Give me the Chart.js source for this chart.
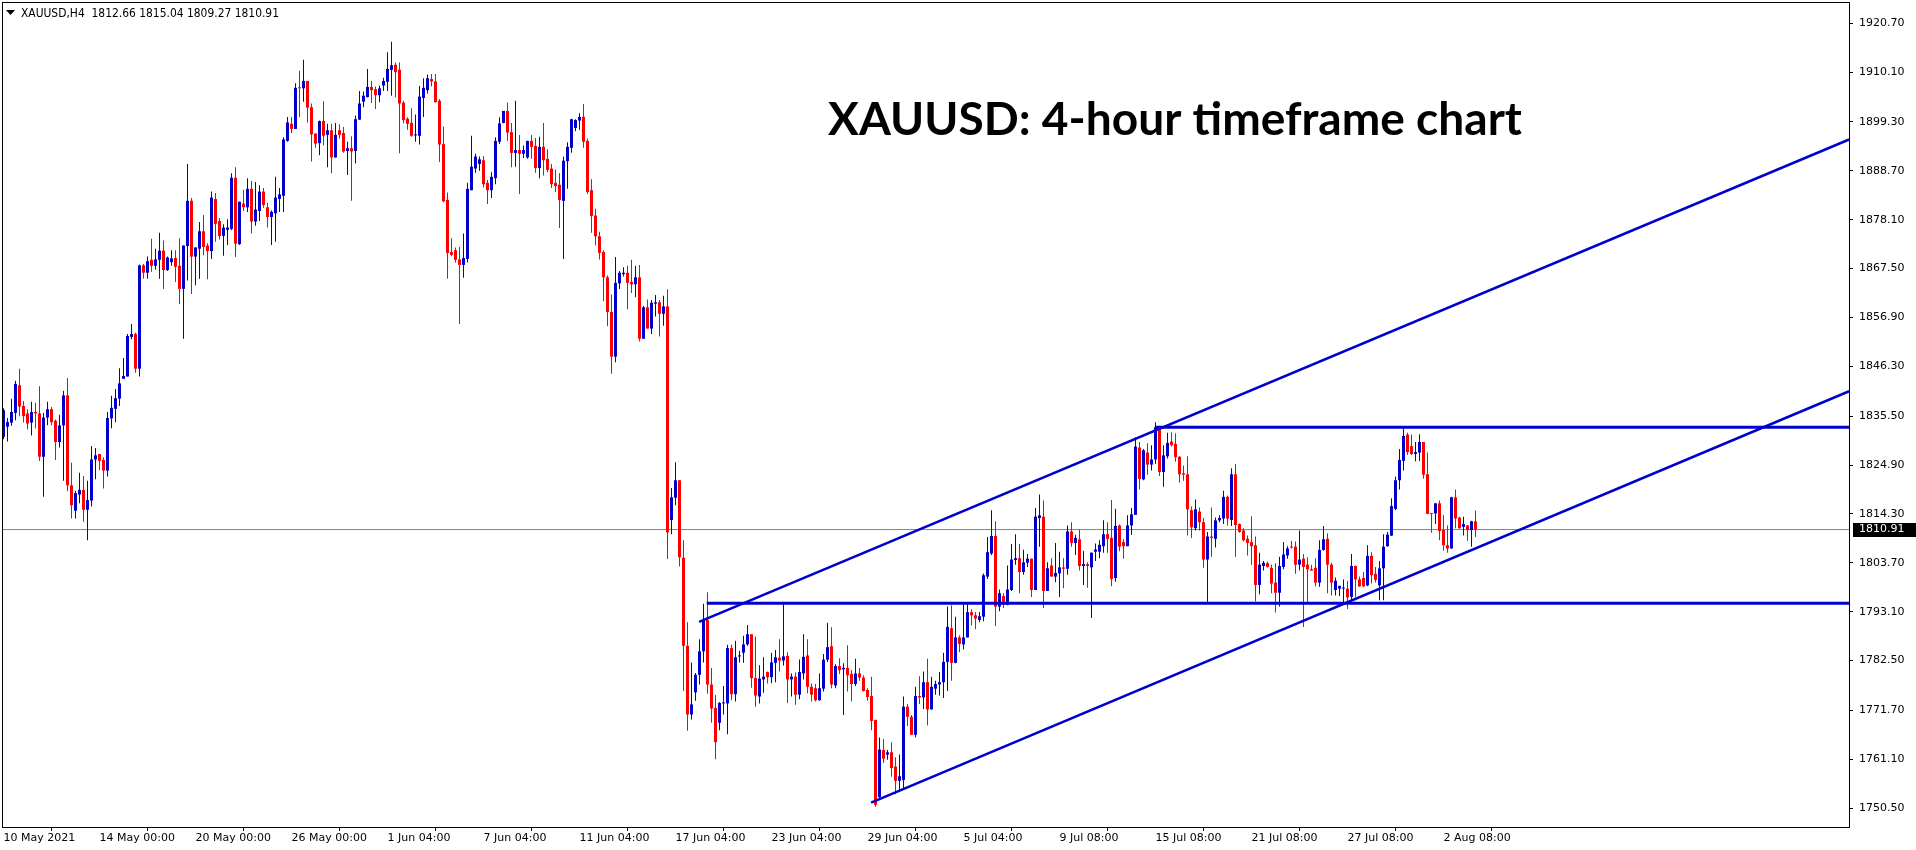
<!DOCTYPE html>
<html>
<head>
<meta charset="utf-8">
<title>XAUUSD H4</title>
<script src="https://cdn.jsdelivr.net/npm/chart.js@4.4.1/dist/chart.umd.min.js"></script>
<style>
  html, body { margin: 0; padding: 0; background: #fff; }
  canvas { display: block; }
</style>
</head>
<body>
<canvas id="chart" width="1916" height="850" style="width:1916px;height:850px"></canvas>
<script>
const symbol = 'XAUUSD,H4';
const title = 'XAUUSD: 4-hour timeframe chart';

// one label every 24 bars (4 trading days of H4)
const dateLabels = ['10 May 2021', '14 May 00:00', '20 May 00:00', '26 May 00:00', '1 Jun 04:00',
    '7 Jun 04:00', '11 Jun 04:00', '17 Jun 04:00', '23 Jun 04:00', '29 Jun 04:00', '5 Jul 04:00',
    '9 Jul 08:00', '15 Jul 08:00', '21 Jul 08:00', '27 Jul 08:00', '2 Aug 08:00'];

const priceTicks = [1920.70, 1910.10, 1899.30, 1888.70, 1878.10, 1867.50, 1856.90, 1846.30, 1835.50,
    1824.90, 1814.30, 1803.70, 1793.10, 1782.50, 1771.70, 1761.10, 1750.50];

const opens = [
    1831.0, 1833.2, 1834.1, 1836.2, 1842.2, 1837.7, 1836.1, 1834.1, 1836.4, 1836.1,
    1826.7, 1835.2, 1837.0, 1834.5, 1829.9, 1833.5, 1840.0, 1820.5, 1815.0, 1818.5,
    1819.5, 1815.2, 1817.2, 1826.1, 1827.3, 1826.0, 1823.7, 1835.0, 1837.1, 1839.3,
    1843.6, 1844.1, 1852.7, 1853.3, 1845.8, 1868.2, 1866.6, 1869.4, 1868.1, 1869.4,
    1871.4, 1867.2, 1868.9, 1869.8, 1868.1, 1863.1, 1872.4, 1882.2, 1870.1, 1871.8,
    1875.6, 1872.5, 1871.3, 1882.6, 1877.8, 1874.6, 1875.9, 1876.1, 1887.2, 1872.8,
    1881.6, 1880.8, 1884.8, 1877.7, 1880.0, 1884.2, 1880.8, 1878.7, 1879.5, 1882.6,
    1883.3, 1895.2, 1898.9, 1897.8, 1906.7, 1906.6, 1908.2, 1902.5, 1896.8, 1894.7,
    1899.5, 1896.5, 1897.5, 1891.6, 1897.5, 1896.9, 1893.0, 1893.6, 1893.0, 1899.8,
    1903.7, 1904.7, 1906.9, 1906.4, 1905.1, 1907.2, 1908.0, 1910.6, 1911.7, 1910.6,
    1903.5, 1900.0, 1899.1, 1896.4, 1896.3, 1904.5, 1906.2, 1908.6, 1908.1, 1903.9,
    1894.5, 1882.4, 1871.1, 1871.5, 1869.5, 1868.3, 1869.6, 1884.5, 1889.2, 1890.2,
    1891.0, 1886.1, 1884.5, 1887.1, 1895.0, 1899.1, 1901.7, 1897.1, 1892.6, 1893.2,
    1892.4, 1891.6, 1895.2, 1894.1, 1889.3, 1893.9, 1891.3, 1889.2, 1886.1, 1885.7,
    1882.2, 1890.8, 1893.7, 1898.0, 1899.6, 1900.4, 1895.2, 1884.5, 1879.0, 1874.5,
    1871.1, 1865.6, 1858.1, 1848.4, 1864.3, 1866.3, 1866.6, 1864.6, 1864.1, 1865.6,
    1852.3, 1859.1, 1854.5, 1859.9, 1860.2, 1857.7, 1859.3, 1813.0, 1817.8, 1821.6,
    1804.8, 1785.7, 1770.8, 1775.6, 1779.4, 1784.5, 1791.3, 1777.3, 1772.2, 1769.0,
    1773.2, 1773.2, 1785.2, 1775.2, 1783.4, 1784.2, 1786.0, 1788.2, 1778.7, 1774.7,
    1778.4, 1780.0, 1778.9, 1782.0, 1783.1, 1782.5, 1783.5, 1778.4, 1779.0, 1775.1,
    1779.7, 1783.6, 1776.8, 1776.5, 1773.9, 1776.4, 1782.7, 1785.6, 1777.1, 1781.3,
    1780.6, 1780.9, 1779.6, 1777.4, 1779.7, 1778.8, 1776.1, 1774.8, 1769.6, 1752.9,
    1763.1, 1762.1, 1762.6, 1759.5, 1756.4, 1756.6, 1772.5, 1770.3, 1766.4, 1774.8,
    1774.5, 1777.8, 1771.9, 1776.4, 1777.3, 1777.8, 1782.2, 1789.5, 1782.0, 1787.5,
    1786.0, 1787.5, 1793.0, 1792.3, 1791.3, 1792.0, 1800.7, 1805.7, 1809.5, 1794.2,
    1796.5, 1794.6, 1797.8, 1804.3, 1804.7, 1801.7, 1803.7, 1804.6, 1797.8, 1813.4,
    1813.7, 1797.6, 1803.1, 1800.7, 1801.4, 1802.7, 1802.4, 1810.5, 1808.0, 1808.8,
    1803.0, 1803.4, 1802.7, 1806.1, 1806.1, 1807.3, 1809.9, 1809.1, 1800.4, 1811.8,
    1808.2, 1807.3, 1811.8, 1814.1, 1828.7, 1821.8, 1827.6, 1825.0, 1826.1, 1833.1,
    1823.4, 1826.8, 1830.0, 1829.5, 1826.7, 1823.1, 1822.9, 1815.1, 1811.2, 1814.8,
    1812.5, 1804.4, 1809.4, 1808.9, 1812.9, 1813.3, 1818.0, 1813.0, 1822.9, 1812.1,
    1810.7, 1808.9, 1808.2, 1807.5, 1798.9, 1803.0, 1803.6, 1802.6, 1799.4, 1797.2,
    1802.8, 1805.3, 1807.2, 1807.2, 1803.3, 1804.6, 1803.3, 1802.3, 1802.6, 1799.4,
    1806.5, 1808.9, 1803.3, 1797.8, 1798.1, 1798.1, 1798.1, 1796.3, 1803.0, 1800.1,
    1800.4, 1798.8, 1805.2, 1801.3, 1798.8, 1802.5, 1807.3, 1809.6, 1815.4, 1821.6,
    1825.8, 1831.5, 1829.0, 1827.3, 1827.6, 1829.9, 1822.9, 1814.4, 1814.4, 1816.6,
    1810.8, 1807.5, 1806.8, 1817.9, 1813.5, 1811.5, 1811.8, 1810.8, 1812.66
];
const highs = [
    1837.2, 1835.1, 1839.3, 1843.2, 1845.8, 1838.8, 1837.0, 1838.6, 1838.4, 1842.0,
    1836.2, 1838.6, 1837.5, 1834.8, 1835.8, 1841.0, 1843.8, 1825.4, 1819.3, 1823.2,
    1822.5, 1821.5, 1829.0, 1828.6, 1827.3, 1826.6, 1836.4, 1839.9, 1841.4, 1845.9,
    1848.1, 1853.3, 1855.5, 1853.6, 1868.4, 1868.5, 1870.1, 1874.0, 1871.8, 1875.3,
    1873.6, 1870.1, 1871.5, 1871.5, 1874.1, 1872.5, 1890.2, 1882.8, 1872.1, 1877.6,
    1879.1, 1873.0, 1884.2, 1883.9, 1878.5, 1877.1, 1878.2, 1888.2, 1889.5, 1882.0,
    1884.6, 1887.1, 1886.5, 1886.3, 1885.6, 1885.0, 1881.7, 1880.1, 1887.4, 1885.0,
    1896.0, 1900.4, 1900.4, 1907.7, 1910.4, 1912.8, 1908.2, 1903.3, 1896.8, 1899.6,
    1903.8, 1898.9, 1898.9, 1899.1, 1898.8, 1898.2, 1895.0, 1896.2, 1900.7, 1906.0,
    1905.9, 1910.8, 1908.2, 1907.0, 1907.2, 1908.9, 1914.4, 1916.7, 1912.2, 1912.2,
    1903.9, 1900.3, 1902.3, 1900.9, 1907.1, 1908.8, 1909.6, 1909.7, 1909.7, 1904.3,
    1898.3, 1884.0, 1874.1, 1872.1, 1872.2, 1875.1, 1886.1, 1896.3, 1892.4, 1891.8,
    1891.9, 1886.7, 1888.4, 1896.0, 1900.3, 1901.7, 1903.5, 1899.1, 1903.9, 1896.5,
    1894.2, 1895.2, 1896.5, 1895.8, 1896.1, 1899.1, 1893.4, 1890.2, 1889.0, 1888.2,
    1891.8, 1894.9, 1900.0, 1899.9, 1901.2, 1903.2, 1895.7, 1886.9, 1880.5, 1875.5,
    1871.5, 1866.0, 1861.9, 1870.0, 1867.0, 1867.8, 1868.1, 1869.4, 1868.1, 1868.3,
    1859.4, 1860.8, 1860.7, 1861.8, 1860.7, 1861.6, 1863.0, 1819.9, 1825.5, 1821.6,
    1808.6, 1790.8, 1782.1, 1779.8, 1787.1, 1794.8, 1797.3, 1780.9, 1775.0, 1773.5,
    1777.0, 1785.9, 1786.0, 1786.8, 1784.6, 1787.9, 1790.2, 1788.2, 1787.7, 1781.5,
    1783.2, 1780.1, 1784.2, 1784.8, 1787.1, 1794.8, 1784.3, 1779.7, 1779.9, 1782.7,
    1788.2, 1787.1, 1777.5, 1777.4, 1779.7, 1783.9, 1790.7, 1789.7, 1781.7, 1783.0,
    1781.9, 1785.8, 1780.4, 1782.9, 1780.9, 1779.3, 1776.5, 1779.0, 1769.7, 1765.8,
    1765.5, 1763.1, 1764.8, 1761.5, 1762.1, 1774.7, 1773.1, 1770.7, 1776.8, 1779.1,
    1780.1, 1782.9, 1779.0, 1778.1, 1780.0, 1784.2, 1794.2, 1794.5, 1792.0, 1788.0,
    1794.9, 1794.9, 1793.6, 1793.0, 1793.0, 1801.4, 1809.3, 1815.1, 1812.7, 1797.9,
    1797.1, 1803.1, 1807.8, 1809.9, 1807.8, 1806.5, 1805.6, 1804.6, 1815.6, 1818.5,
    1817.2, 1803.8, 1804.7, 1808.0, 1806.1, 1804.7, 1811.8, 1812.5, 1809.8, 1810.9,
    1806.3, 1803.8, 1805.9, 1807.9, 1808.6, 1812.9, 1812.5, 1817.3, 1815.4, 1812.0,
    1808.8, 1814.0, 1815.6, 1830.9, 1829.9, 1828.4, 1829.6, 1829.2, 1834.2, 1833.1,
    1829.2, 1831.9, 1832.0, 1831.8, 1826.8, 1824.8, 1826.8, 1815.9, 1817.4, 1815.7,
    1813.4, 1810.4, 1815.7, 1813.5, 1814.0, 1819.3, 1818.3, 1824.2, 1825.1, 1812.2,
    1811.2, 1809.6, 1813.8, 1809.4, 1805.9, 1804.1, 1804.0, 1803.3, 1803.6, 1805.0,
    1808.2, 1807.3, 1808.5, 1808.3, 1810.7, 1805.6, 1804.9, 1803.3, 1804.7, 1808.6,
    1811.7, 1810.1, 1803.7, 1800.5, 1798.7, 1800.1, 1799.8, 1805.6, 1803.1, 1800.7,
    1801.7, 1807.5, 1806.0, 1802.8, 1804.1, 1809.9, 1810.4, 1817.7, 1822.4, 1828.4,
    1832.9, 1831.9, 1831.5, 1829.9, 1831.6, 1829.9, 1827.6, 1814.4, 1816.6, 1817.2,
    1814.0, 1811.8, 1818.0, 1819.6, 1813.7, 1813.7, 1811.9, 1812.8, 1815.04
];
const lows = [
    1830.5, 1830.0, 1833.4, 1834.6, 1835.5, 1834.1, 1832.6, 1831.3, 1832.8, 1825.8,
    1818.0, 1833.5, 1833.5, 1826.0, 1828.7, 1821.5, 1819.2, 1813.3, 1813.3, 1816.6,
    1812.6, 1808.6, 1815.9, 1821.8, 1823.8, 1819.8, 1822.4, 1832.9, 1834.2, 1837.7,
    1843.6, 1844.1, 1852.2, 1844.9, 1844.1, 1865.3, 1865.3, 1866.8, 1867.3, 1865.3,
    1863.1, 1867.0, 1868.1, 1864.6, 1859.8, 1852.3, 1864.9, 1862.0, 1863.9, 1865.3,
    1870.4, 1865.2, 1869.6, 1873.3, 1873.8, 1870.3, 1872.6, 1875.8, 1870.0, 1872.6,
    1880.0, 1879.8, 1875.1, 1876.8, 1877.8, 1880.7, 1876.4, 1872.6, 1873.3, 1879.8,
    1879.8, 1895.0, 1896.9, 1897.8, 1900.4, 1903.7, 1899.2, 1890.7, 1893.7, 1892.1,
    1894.2, 1889.5, 1888.2, 1891.6, 1895.7, 1892.6, 1887.8, 1882.2, 1890.3, 1899.8,
    1902.5, 1904.6, 1903.4, 1902.1, 1903.6, 1906.0, 1906.0, 1905.0, 1904.6, 1892.5,
    1899.0, 1897.6, 1896.1, 1895.0, 1894.4, 1900.4, 1905.5, 1907.0, 1903.5, 1890.6,
    1881.9, 1865.3, 1870.2, 1868.8, 1855.5, 1865.5, 1868.8, 1884.5, 1888.3, 1888.7,
    1885.1, 1881.5, 1882.8, 1885.8, 1894.5, 1899.0, 1895.2, 1889.5, 1889.6, 1883.7,
    1891.5, 1891.3, 1891.3, 1888.3, 1887.1, 1887.7, 1888.4, 1885.0, 1884.1, 1876.3,
    1869.6, 1884.8, 1892.6, 1897.3, 1897.6, 1893.7, 1883.7, 1875.3, 1872.5, 1869.5,
    1860.4, 1855.0, 1844.7, 1847.2, 1863.1, 1865.8, 1858.7, 1862.2, 1861.3, 1851.7,
    1852.3, 1854.5, 1853.3, 1857.1, 1852.8, 1855.1, 1804.5, 1809.9, 1816.2, 1802.9,
    1775.9, 1767.3, 1769.7, 1773.8, 1777.3, 1782.1, 1775.3, 1769.0, 1761.1, 1767.4,
    1770.8, 1766.5, 1773.9, 1773.6, 1782.1, 1782.0, 1785.7, 1776.6, 1772.5, 1773.2,
    1775.5, 1777.5, 1777.6, 1777.8, 1780.1, 1781.4, 1773.3, 1774.7, 1772.9, 1774.1,
    1778.4, 1775.4, 1773.6, 1773.6, 1773.8, 1775.8, 1782.2, 1776.5, 1776.5, 1779.6,
    1770.7, 1775.8, 1773.6, 1777.0, 1778.1, 1775.8, 1773.8, 1767.4, 1750.8, 1752.7,
    1760.3, 1761.0, 1757.3, 1753.5, 1754.0, 1754.5, 1768.3, 1766.4, 1765.8, 1773.1,
    1772.0, 1768.4, 1771.9, 1775.1, 1774.9, 1774.4, 1775.9, 1778.1, 1781.9, 1784.3,
    1784.9, 1787.5, 1790.1, 1789.3, 1790.8, 1791.0, 1800.2, 1805.4, 1790.0, 1793.2,
    1793.9, 1794.5, 1797.6, 1803.3, 1797.1, 1801.1, 1802.8, 1796.3, 1797.8, 1807.2,
    1793.9, 1797.6, 1800.7, 1799.5, 1796.3, 1798.2, 1801.1, 1807.2, 1805.4, 1802.0,
    1798.9, 1798.3, 1791.7, 1804.1, 1804.7, 1805.9, 1805.9, 1798.6, 1799.6, 1806.2,
    1804.6, 1807.3, 1809.8, 1814.1, 1819.6, 1821.6, 1822.8, 1823.7, 1825.1, 1822.5,
    1820.2, 1826.3, 1828.9, 1825.6, 1821.1, 1821.5, 1809.6, 1809.1, 1810.7, 1810.7,
    1802.6, 1795.2, 1805.0, 1807.0, 1812.5, 1812.1, 1811.8, 1811.7, 1805.0, 1810.2,
    1808.3, 1805.3, 1803.3, 1795.3, 1796.9, 1802.0, 1802.7, 1797.1, 1792.9, 1794.2,
    1802.3, 1804.6, 1806.8, 1801.3, 1802.1, 1789.8, 1795.2, 1802.0, 1798.6, 1798.5,
    1806.3, 1797.1, 1796.6, 1796.6, 1796.5, 1794.9, 1793.7, 1795.2, 1796.3, 1798.5,
    1798.4, 1798.6, 1799.2, 1799.4, 1795.6, 1795.6, 1807.2, 1809.5, 1815.1, 1819.6,
    1823.7, 1827.1, 1827.1, 1825.7, 1825.8, 1821.9, 1814.3, 1810.2, 1812.1, 1808.6,
    1806.3, 1805.9, 1806.8, 1811.2, 1811.1, 1809.6, 1808.5, 1807.2, 1809.27
];
const closes = [
    1836.8, 1834.2, 1836.4, 1842.5, 1837.6, 1835.5, 1833.9, 1836.4, 1836.1, 1826.7,
    1835.2, 1837.0, 1834.2, 1829.9, 1833.5, 1840.0, 1820.5, 1816.2, 1818.8, 1819.5,
    1815.2, 1817.3, 1826.1, 1827.0, 1825.8, 1823.7, 1835.1, 1837.3, 1839.4, 1842.6,
    1844.2, 1852.9, 1853.3, 1845.8, 1868.2, 1866.6, 1869.1, 1868.1, 1869.5, 1871.4,
    1867.2, 1869.9, 1869.7, 1867.9, 1863.1, 1872.5, 1882.2, 1870.1, 1872.1, 1875.6,
    1872.2, 1871.3, 1882.9, 1877.2, 1874.6, 1876.4, 1876.4, 1887.2, 1872.9, 1882.0,
    1880.8, 1884.8, 1877.7, 1880.3, 1884.2, 1881.3, 1878.7, 1879.8, 1882.9, 1883.6,
    1895.5, 1899.2, 1897.8, 1906.7, 1906.6, 1908.2, 1902.4, 1896.6, 1894.6, 1899.5,
    1896.3, 1897.5, 1891.6, 1896.5, 1896.5, 1892.9, 1893.6, 1892.9, 1899.9, 1903.3,
    1905.0, 1906.9, 1906.2, 1905.1, 1906.6, 1908.2, 1910.8, 1911.6, 1910.1, 1903.3,
    1899.7, 1898.9, 1896.3, 1896.5, 1904.8, 1906.7, 1908.8, 1908.1, 1903.6, 1894.4,
    1882.1, 1870.9, 1870.5, 1869.4, 1868.3, 1869.8, 1884.8, 1889.6, 1891.8, 1891.2,
    1885.8, 1884.5, 1887.4, 1895.2, 1899.0, 1901.7, 1897.0, 1892.6, 1893.2, 1892.4,
    1893.2, 1895.2, 1893.9, 1889.3, 1893.9, 1891.0, 1888.9, 1885.8, 1885.4, 1882.4,
    1890.9, 1893.9, 1899.9, 1899.7, 1900.4, 1895.0, 1884.1, 1878.9, 1874.5, 1870.9,
    1865.6, 1858.1, 1848.4, 1864.4, 1866.6, 1866.6, 1864.4, 1864.1, 1865.6, 1852.3,
    1859.1, 1854.5, 1860.1, 1860.2, 1857.7, 1859.3, 1810.3, 1817.9, 1821.6, 1804.9,
    1785.7, 1770.8, 1773.0, 1779.4, 1784.5, 1791.1, 1777.3, 1772.1, 1764.8, 1773.3,
    1773.3, 1785.2, 1775.2, 1783.2, 1783.5, 1786.0, 1788.2, 1778.7, 1774.9, 1778.6,
    1779.0, 1778.9, 1782.1, 1783.2, 1782.5, 1783.4, 1778.4, 1779.0, 1775.1, 1780.0,
    1783.3, 1776.8, 1775.1, 1773.9, 1776.5, 1782.7, 1785.4, 1777.3, 1781.3, 1780.4,
    1780.9, 1779.3, 1777.4, 1779.7, 1778.8, 1775.9, 1774.6, 1769.4, 1751.2, 1763.2,
    1761.2, 1762.6, 1759.2, 1756.4, 1757.4, 1772.5, 1770.3, 1766.4, 1774.8, 1774.5,
    1777.8, 1771.9, 1776.8, 1777.4, 1777.8, 1782.2, 1789.8, 1782.0, 1787.5, 1786.1,
    1787.5, 1793.0, 1792.3, 1791.6, 1792.1, 1801.0, 1806.0, 1809.5, 1794.2, 1797.1,
    1794.6, 1797.9, 1804.4, 1804.7, 1801.7, 1803.8, 1804.6, 1797.8, 1813.7, 1814.0,
    1797.6, 1802.5, 1800.7, 1801.5, 1802.7, 1802.4, 1810.5, 1808.0, 1809.1, 1803.0,
    1803.4, 1803.0, 1805.9, 1806.6, 1807.6, 1809.9, 1808.9, 1800.2, 1811.7, 1807.2,
    1807.3, 1811.8, 1814.2, 1828.9, 1821.9, 1828.1, 1825.0, 1826.1, 1833.1, 1823.4,
    1827.0, 1829.7, 1829.2, 1826.6, 1822.9, 1822.8, 1815.3, 1811.4, 1815.3, 1812.5,
    1804.4, 1809.4, 1809.1, 1812.9, 1813.4, 1818.0, 1813.3, 1822.9, 1811.9, 1810.4,
    1808.6, 1808.0, 1807.3, 1798.9, 1803.3, 1803.7, 1802.8, 1799.2, 1797.2, 1803.0,
    1805.5, 1806.8, 1807.0, 1803.3, 1804.4, 1802.8, 1802.3, 1802.0, 1799.4, 1806.5,
    1808.8, 1803.3, 1799.4, 1799.8, 1798.7, 1798.2, 1796.2, 1803.0, 1800.1, 1798.6,
    1798.6, 1805.2, 1801.0, 1800.0, 1802.5, 1807.2, 1809.8, 1816.0, 1821.6, 1826.0,
    1831.2, 1827.7, 1827.3, 1827.7, 1829.9, 1822.8, 1814.3, 1814.3, 1816.6, 1810.6,
    1807.5, 1806.8, 1817.9, 1813.3, 1811.2, 1812.1, 1810.8, 1812.7, 1810.91
];

// drawn objects, as [bar index, price]
const upperChannel = [[173.9, 1790.9], [461.4, 1895.5]];
const lowerChannel = [[216.9, 1751.7], [461.4, 1840.9]];
const resistance = [[287.9, 1833.1], [461.4, 1833.1]];
const support = [[175.8, 1794.9], [461.4, 1794.9]];

const BARS_PER_LABEL = 24;
const X_MIN = -0.375, X_MAX = 461.375;
const Y_MIN = 1746.4, Y_MAX = 1925.1;
const BULL = '#0000cd', BEAR = '#ff0000', TREND = '#0000cd', BID = '#778899';
const AXIS_FONT = { family: '"DejaVu Sans"', size: 11 };

const last = closes.length - 1;
const colors = closes.map((c, i) => c >= opens[i] ? BULL : BEAR);
const wicks = closes.map((c, i) => ({ x: i, y: [lows[i], highs[i]] }));
const bodies = closes.map((c, i) => ({ x: i, y: [Math.min(opens[i], c), Math.max(opens[i], c)] }));
const toPoints = pts => pts.map(([x, y]) => ({ x, y }));

const trendLine = (pts, width) => ({
    type: 'line',
    data: toPoints(pts),
    borderColor: TREND,
    borderWidth: width,
    pointRadius: 0,
    fill: false,
    order: 0,
});

// squeeze text horizontally so it spans the given width
const fitText = (ctx, text, x, y, width) => {
    ctx.save();
    ctx.translate(x, y);
    ctx.scale(width / ctx.measureText(text).width, 1);
    ctx.fillText(text, 0, 0);
    ctx.restore();
};

const overlay = {
    id: 'overlay',
    afterDraw(chart) {
        const { ctx, chartArea: a } = chart;
        ctx.save();
        // frame
        ctx.strokeStyle = '#000';
        ctx.lineWidth = 1;
        ctx.strokeRect(a.left + 0.5, a.top - 0.5, a.right - a.left, a.bottom - a.top + 1);

        // header
        ctx.fillStyle = '#000';
        ctx.beginPath();
        ctx.moveTo(6, 10); ctx.lineTo(15, 10); ctx.lineTo(10.5, 15); ctx.closePath();
        ctx.fill();
        ctx.font = '12px "DejaVu Sans"';
        ctx.textBaseline = 'alphabetic';
        ctx.textAlign = 'left';
        const ohlc = [opens[last], highs[last], lows[last], closes[last]].map(v => v.toFixed(2)).join(' ');
        fitText(ctx, `${symbol}  ${ohlc}`, 21, 17, 258);

        // current price box on the axis
        ctx.font = '11px "DejaVu Sans"';
        const py = chart.scales.y.getPixelForValue(closes[last]);
        ctx.fillRect(a.right + 4, Math.round(py) - 7, 1916 - a.right - 4, 14);
        ctx.fillStyle = '#fff';
        ctx.textBaseline = 'middle';
        ctx.fillText(closes[last].toFixed(2), a.right + 10, py);

        // title
        ctx.fillStyle = '#000';
        ctx.font = 'bold 46px Lato';
        ctx.textBaseline = 'alphabetic';
        fitText(ctx, title, 828, 135, 694);
        ctx.restore();
    }
};

new Chart(document.getElementById('chart'), {
    type: 'bar',
    data: {
        datasets: [
            trendLine(upperChannel, 2.5),
            trendLine(lowerChannel, 2.5),
            trendLine(resistance, 3),
            trendLine(support, 3),
            {
                data: bodies,
                backgroundColor: colors,
                barThickness: 3,
                minBarLength: 1,
                grouped: false,
                borderWidth: 0,
                inflateAmount: 0,
                order: 1,
            },
            {
                data: wicks,
                backgroundColor: colors,
                barThickness: 1,
                grouped: false,
                borderWidth: 0,
                inflateAmount: 0,
                order: 2,
            },
            {
                type: 'line',
                data: [{ x: X_MIN, y: closes[last] }, { x: X_MAX, y: closes[last] }],
                borderColor: BID,
                borderWidth: 1,
                pointRadius: 0,
                fill: false,
                order: 3,
            },
        ],
    },
    options: {
        responsive: false,
        animation: false,
        devicePixelRatio: 1,
        events: [],
        layout: { padding: { top: 3, left: 2, right: 0, bottom: 0 } },
        plugins: { legend: { display: false }, tooltip: { enabled: false } },
        scales: {
            x: {
                type: 'linear',
                min: X_MIN,
                max: X_MAX,
                offset: false,
                afterBuildTicks: s => { s.ticks = dateLabels.map((_, k) => ({ value: k * BARS_PER_LABEL })); },
                afterFit: s => { s.height = 23; s.paddingLeft = 0; s.paddingRight = 0; },
                grid: { drawOnChartArea: false, drawTicks: true, tickLength: 4, color: '#000' },
                border: { display: false },
                ticks: {
                    align: 'start',
                    autoSkip: false,
                    maxRotation: 0,
                    padding: 1,
                    color: '#000',
                    font: AXIS_FONT,
                    callback: v => dateLabels[Math.round(v / BARS_PER_LABEL)] ?? '',
                },
            },
            y: {
                type: 'linear',
                position: 'right',
                min: Y_MIN,
                max: Y_MAX,
                afterBuildTicks: s => { s.ticks = priceTicks.map(v => ({ value: v })); },
                afterFit: s => { s.width = 67; s.paddingTop = 0; s.paddingBottom = 0; },
                grid: { drawOnChartArea: false, drawTicks: true, tickLength: 4, color: '#000' },
                border: { display: false },
                ticks: {
                    padding: 6,
                    color: '#000',
                    font: AXIS_FONT,
                    callback: v => v.toFixed(2),
                },
            },
        },
    },
    plugins: [overlay],
});
</script>
</body>
</html>
